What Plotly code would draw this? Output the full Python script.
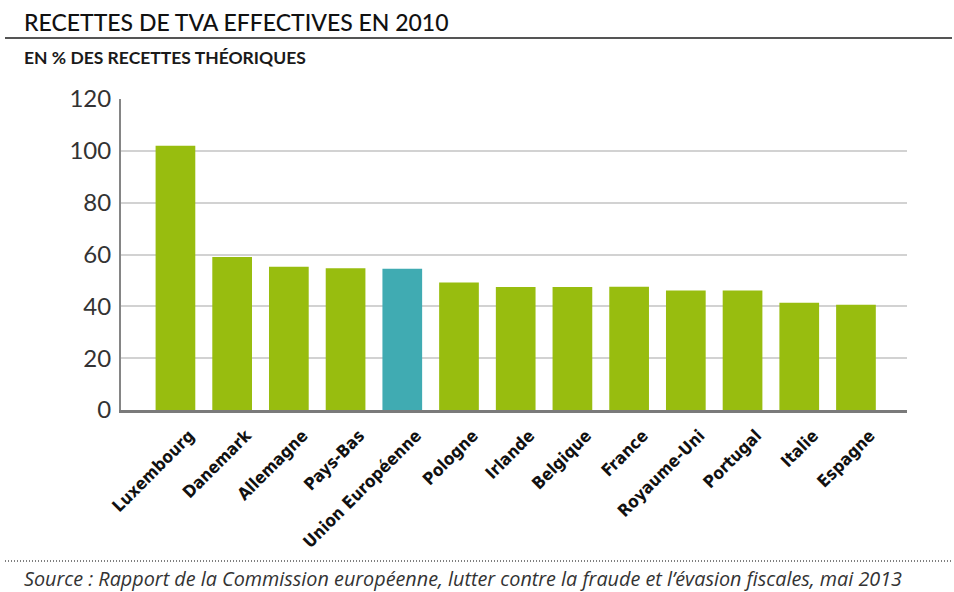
import plotly.graph_objects as go

categories = ["Luxembourg", "Danemark", "Allemagne", "Pays-Bas", "Union Européenne",
              "Pologne", "Irlande", "Belgique", "France", "Royaume-Uni",
              "Portugal", "Italie", "Espagne"]
values = [102, 59, 55.3, 54.7, 54.5, 49.2, 47.5, 47.5, 47.6, 46.1, 46.1, 41.4, 40.6]
highlight = "Union Européenne"
y_ticks = [0, 20, 40, 60, 80, 100, 120]

GREEN = "#98BD0F"
TEAL = "#40ABB2"
colors = [TEAL if c == highlight else GREEN for c in categories]

W, H = 954, 592
L, R, T, B = 121, 47, 99, 182
pw, ph = W - L - R, H - T - B


def px(x):
    return (x - L) / pw


def py(y):
    return (H - B - y) / ph


fig = go.Figure(go.Bar(x=categories, y=values, marker=dict(color=colors, line=dict(width=0)),
                       width=0.7))

fig.update_layout(
    width=W, height=H, autosize=False,
    margin=dict(l=L, r=R, t=T, b=B),
    paper_bgcolor="white", plot_bgcolor="white",
    showlegend=False,
    xaxis=dict(
        range=[-0.96, 12.9], showgrid=False, zeroline=False,
        showline=True, linecolor="#7a7a7a", linewidth=3,
        tickangle=-45, ticks="", ticklabelshift=14, ticklabelstandoff=6,
        tickfont=dict(family="DejaVu Sans Condensed, Liberation Sans Narrow, sans-serif",
                      size=17, color="#111111", weight="bold"),
    ),
    yaxis=dict(
        range=[0, 120], tickvals=y_ticks, showgrid=True, gridcolor="#d2d2d2", gridwidth=2,
        zeroline=False, showline=True, linecolor="#858585", linewidth=2,
        ticks="", ticklabelstandoff=3,
        tickfont=dict(family="Lato, sans-serif", size=24, color="#333333"),
    ),
    annotations=[
        dict(text="RECETTES DE TVA EFFECTIVES EN 2010", xref="paper", yref="paper",
             x=px(22), y=py(22), xanchor="left", yanchor="middle", showarrow=False,
             font=dict(family="Lato, sans-serif", size=23, color="#111111", weight=500)),
        dict(text="EN % DES RECETTES THÉORIQUES", xref="paper", yref="paper",
             x=px(22), y=py(58), xanchor="left", yanchor="middle", showarrow=False,
             font=dict(family="Lato, sans-serif", size=17.5, color="#1a1a1a", weight="bold")),
        dict(text="<i>Source : Rapport de la Commission européenne, lutter contre la fraude et l’évasion fiscales, mai 2013</i>",
             xref="paper", yref="paper",
             x=px(22), y=py(578), xanchor="left", yanchor="middle", showarrow=False,
             font=dict(family="Open Sans, sans-serif", size=19.8, color="#333333")),
    ],
    shapes=[
        dict(type="line", xref="paper", yref="paper", x0=px(5), x1=px(952), y0=py(38), y1=py(38),
             line=dict(color="#555555", width=2)),
        dict(type="line", xref="paper", yref="paper", x0=px(5), x1=px(952), y0=py(561), y1=py(561),
             line=dict(color="#555555", width=1.5, dash="1px,2px")),
    ],
)

fig.write_html("out.html", config={"displayModeBar": False},
               post_script="document.body.style.margin='0';")
